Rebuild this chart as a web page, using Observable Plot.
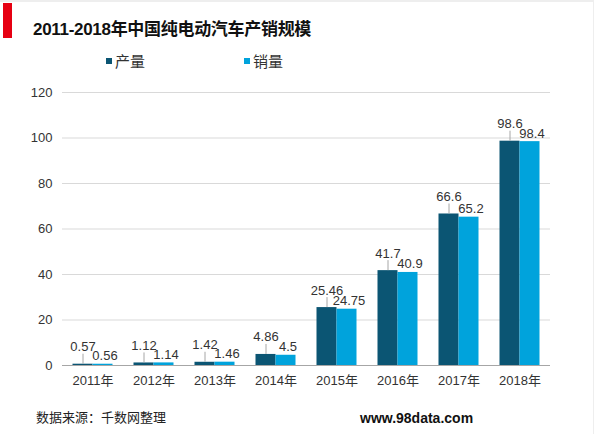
<!DOCTYPE html>
<html>
<head>
<meta charset="utf-8">
<script src="https://cdn.jsdelivr.net/npm/d3@7"></script>
<script src="https://cdn.jsdelivr.net/npm/@observablehq/plot@0.6"></script>
<style>
  html, body { margin: 0; padding: 0; background: #fff; }
  #wrap { position: relative; width: 600px; height: 434px; overflow: hidden; font-family: "Liberation Sans", "Noto Sans CJK SC", sans-serif; }
  #redbar { position: absolute; left: 3px; top: 3px; width: 9px; height: 35px; background: #e60012; }
  #title { position: absolute; left: 33px; top: 18px; font-size: 17px; font-weight: bold; color: #111; line-height: 24px; white-space: nowrap; letter-spacing: -0.3px; }
  .leg { position: absolute; top: 52px; font-size: 15px; color: #333; line-height: 20px; white-space: nowrap; }
  .leg span.sw { display: inline-block; width: 6px; height: 6px; margin-right: 3px; vertical-align: middle; position: relative; top: -2px; }
  #chart { position: absolute; left: 0; top: 75px; }
  #src { position: absolute; left: 36px; top: 408px; font-size: 13px; color: #222; white-space: nowrap; line-height: 20px; }
  #site { position: absolute; left: 360px; top: 408px; font-size: 14px; font-weight: bold; color: #111; white-space: nowrap; line-height: 20px; }
  #rborder { position: absolute; left: 593px; top: 0; width: 1px; height: 434px; background: #eeeeee; }
  #tborder { position: absolute; left: 0; top: 0; width: 593px; height: 2px; background: #eeeeee; }
</style>
</head>
<body>
<div id="wrap">
  <div id="tborder"></div>
  <div id="rborder"></div>
  <div id="redbar"></div>
  <div id="title">2011-2018年中国纯电动汽车产销规模</div>
  <div class="leg" style="left:106px"><span class="sw" style="background:#0b5573"></span>产量</div>
  <div class="leg" style="left:244px"><span class="sw" style="background:#00a3dc"></span>销量</div>
  <div id="chart"></div>
  <div id="src">数据来源：千数网整理</div>
  <div id="site">www.98data.com</div>
</div>
<script>
const years = ["2011年","2012年","2013年","2014年","2015年","2016年","2017年","2018年"];
const production = [0.57, 1.12, 1.42, 4.86, 25.46, 41.7, 66.6, 98.6];
const sales = [0.56, 1.14, 1.46, 4.5, 24.75, 40.9, 65.2, 98.4];
const yTicks = [0, 20, 40, 60, 80, 100, 120];

const dark = "#0b5573";
const light = "#00a3dc";

const W = 600, H = 320;
const mL = 62, mR = 50, mT = 17, mB = 30;
const band = (W - mL - mR) / years.length;
const barW = 20;
const outer = band / 2 - barW;
const half = band / 2;

const prodData = years.map((y, i) => ({year: y, value: production[i]}));
const salesData = years.map((y, i) => ({year: y, value: sales[i]}));

const fmt = v => String(v);

const chart = Plot.plot({
  width: W,
  height: H,
  marginLeft: mL,
  marginRight: mR,
  marginTop: mT,
  marginBottom: mB,
  style: {fontFamily: '"Liberation Sans", "Noto Sans CJK SC", sans-serif', fontSize: "13px", color: "#333", background: "transparent"},
  x: {domain: years, padding: 0, label: null, tickSize: 0, tickPadding: 10},
  y: {domain: [0, 120], ticks: yTicks, label: null, tickSize: 0, tickPadding: 10},
  marks: [
    Plot.ruleY(yTicks.filter(t => t > 0), {stroke: "#d9d9d9", strokeWidth: 1}),
    Plot.barY(prodData, {x: "year", y: "value", fill: dark, insetLeft: outer, insetRight: half}),
    Plot.barY(salesData, {x: "year", y: "value", fill: light, insetLeft: half, insetRight: outer}),
    Plot.ruleY([0], {stroke: "#a6a6a6", strokeWidth: 1}),
    Plot.ruleX(prodData, {x: "year", y1: "value", y2: "value", dx: -barW / 2, insetTop: -10, insetBottom: 0, stroke: "#a6a6a6", strokeWidth: 1}),
    Plot.text(prodData, {x: "year", y: "value", text: d => fmt(d.value), dx: -barW / 2, dy: -13, lineAnchor: "bottom", fill: "#333", fontSize: 13}),
    Plot.text(salesData, {x: "year", y: "value", text: d => fmt(d.value), dx: barW / 2 + 2, dy: -4, lineAnchor: "bottom", fill: "#333", fontSize: 13})
  ]
});
document.getElementById("chart").appendChild(chart);
</script>
</body>
</html>
